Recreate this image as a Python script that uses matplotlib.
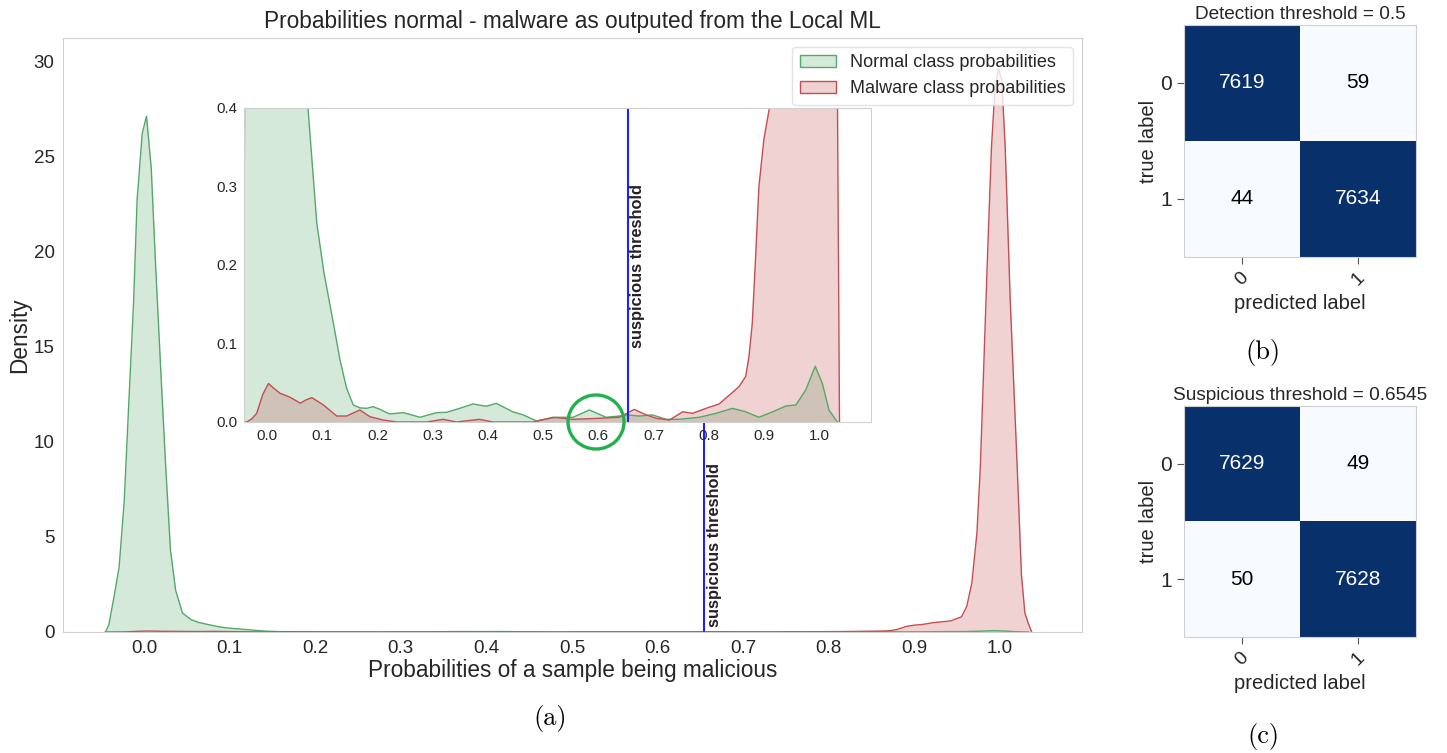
import numpy as np
import matplotlib.pyplot as plt
from matplotlib.patches import Patch, Ellipse

plt.rcParams['font.family'] = ['Liberation Sans', 'DejaVu Sans']
plt.rcParams['text.color'] = '#262626'
plt.rcParams['axes.labelcolor'] = '#262626'
plt.rcParams['xtick.color'] = '#262626'
plt.rcParams['ytick.color'] = '#262626'

# density of the "normal" class probabilities (KDE read-out)
normal_x = [-0.045, -0.041, -0.035, -0.029, -0.023, -0.0175, -0.012, -0.008, -0.002,
            0.003, 0.0085, 0.0137, 0.0195, 0.0254, 0.031, 0.037, 0.045, 0.055, 0.064,
            0.074, 0.09, 0.103, 0.12, 0.132, 0.144, 0.156, 0.168, 0.18, 0.192, 0.205,
            0.222, 0.247, 0.277, 0.307, 0.325, 0.349, 0.373, 0.397, 0.415, 0.445, 0.464,
            0.488, 0.50, 0.524, 0.554, 0.584, 0.614, 0.638, 0.653, 0.674, 0.698, 0.723,
            0.747, 0.783, 0.813, 0.843, 0.867, 0.891, 0.916, 0.940, 0.958, 0.976, 0.993,
            1.006, 1.018, 1.033]
normal_y = [0.0, 0.37, 1.84, 3.4, 6.9, 12.2, 17.4, 22.7, 26.2,
            27.1, 24.4, 19.2, 13.9, 8.7, 4.3, 2.2, 1.0, 0.65, 0.5,
            0.4, 0.253, 0.19, 0.126, 0.079, 0.043, 0.0217, 0.018, 0.0174, 0.0195, 0.016,
            0.0102, 0.0119, 0.006, 0.0119, 0.0123, 0.0174, 0.023, 0.020, 0.0238, 0.013, 0.009,
            0.0013, 0.003, 0.006, 0.006, 0.0153, 0.006, 0.0076, 0.009, 0.0076, 0.009, 0.0034,
            0.0034, 0.006, 0.011, 0.0174, 0.013, 0.006, 0.013, 0.0204, 0.0217, 0.041, 0.071,
            0.049, 0.0153, 0.0]

# density of the "malware" class probabilities
malware_x = [-0.045, -0.037, -0.028, -0.019, -0.008, 0.0024, 0.012, 0.0235, 0.0416, 0.06,
             0.07, 0.081, 0.102, 0.126, 0.144, 0.168, 0.186, 0.21, 0.235, 0.289, 0.319,
             0.343, 0.385, 0.409, 0.482, 0.518, 0.554, 0.602, 0.638, 0.665, 0.687, 0.705,
             0.729, 0.753, 0.771, 0.795, 0.819, 0.837, 0.855, 0.867, 0.873, 0.879, 0.885,
             0.891, 0.9, 0.91, 0.922, 0.942, 0.955, 0.961, 0.967, 0.973, 0.977, 0.981,
             0.985, 0.990, 0.994, 0.998, 1.002, 1.006, 1.012, 1.020, 1.025, 1.029, 1.033,
             1.037]
malware_y = [0.0, 0.0, 0.004, 0.011, 0.035, 0.049, 0.043, 0.0365, 0.0315, 0.024,
             0.028, 0.031, 0.0217, 0.0076, 0.0076, 0.0153, 0.0068, 0.0025, 0.0, 0.0, 0.0034,
             0.0, 0.0034, 0.0, 0.0, 0.006, 0.0034, 0.0047, 0.006, 0.016, 0.009, 0.0047,
             0.0025, 0.013, 0.011, 0.0174, 0.023, 0.034, 0.045, 0.058, 0.083, 0.126, 0.21,
             0.30, 0.36, 0.40, 0.49, 0.58, 0.8, 1.33, 2.56, 5.2, 8.7, 14.0,
             19.3, 25.5, 28.5, 29.6, 29.0, 25.5, 17.3, 8.7, 3.0, 1.0, 0.45,
             0.0]

suspicious_thr = 0.6545
detection_thr = 0.5

cm_detection = [[7619, 59], [44, 7634]]
cm_suspicious = [[7629, 49], [50, 7628]]
cm_labels = ['0', '1']

green = '#55A868'
red = '#C44E52'
spine_col = '#d0d0d0'

fig = plt.figure(figsize=(14.47, 7.53), dpi=100)


def draw_kdes(ax):
    ax.fill_between(normal_x, normal_y, color=green, alpha=0.25, lw=0)
    ax.plot(normal_x, normal_y, color=green, lw=1)
    ax.fill_between(malware_x, malware_y, color=red, alpha=0.25, lw=0)
    ax.plot(malware_x, malware_y, color=red, lw=1)
    for s in ax.spines.values():
        s.set_color(spine_col)
    ax.tick_params(length=0)
    ax.set_xticks(np.arange(0, 1.01, 0.1))


# main density plot
ax = fig.add_axes([0.0435, 0.1607, 0.7043, 0.7888])
draw_kdes(ax)
ax.set_xlim(-0.0946, 1.0958)
ax.set_ylim(0, 31.21)
ax.set_yticks(range(0, 31, 5))
ax.tick_params(labelsize=13.5, pad=6)
ax.vlines(suspicious_thr, 0, 11, color='#2020ff', lw=1.5)
ax.text(0.658, 0.28, 'suspicious threshold', rotation=90, ha='left', va='bottom',
        fontsize=11.8, fontweight='bold', color='#222222')
ax.set_title('Probabilities normal - malware as outputed from the Local ML', fontsize=16.3, pad=7)
ax.set_xlabel('Probabilities of a sample being malicious', fontsize=16.3, labelpad=1)
ax.set_ylabel('Density', fontsize=16.3, labelpad=2)
handles = [Patch(facecolor=(0.333, 0.659, 0.408, 0.25), edgecolor=green),
           Patch(facecolor=(0.769, 0.306, 0.322, 0.25), edgecolor=red)]
ax.legend(handles, ['Normal class probabilities', 'Malware class probabilities'],
          loc='upper right', fontsize=13, edgecolor='#dddddd', framealpha=0.8)

# zoomed inset near zero density
axi = fig.add_axes([0.1686, 0.4396, 0.4333, 0.417])
draw_kdes(axi)
axi.set_xlim(-0.042, 1.094)
axi.set_ylim(0, 0.4)
axi.set_yticks(np.arange(0, 0.41, 0.1))
axi.tick_params(labelsize=10.8, pad=5)
axi.axvline(suspicious_thr, color='#2020ff', lw=1.5)
axi.text(0.6574, 0.094, 'suspicious threshold', rotation=90, ha='left', va='bottom',
         fontsize=11.8, fontweight='bold', color='#222222')

# highlight circle around the bump near 0.6
fig.patches.append(Ellipse((596 / 1447, 1 - 422 / 753), 56 / 1447, 54 / 753,
                           transform=fig.transFigure, fill=False, edgecolor='#22B14C', lw=2.4))


def draw_cm(rect, cm, title):
    a = fig.add_axes(rect)
    cm = np.array(cm)
    a.imshow(cm, cmap='Blues', aspect='auto')
    for i in range(2):
        for j in range(2):
            a.text(j, i, str(cm[i, j]), ha='center', va='center', fontsize=15,
                   color='white' if cm[i, j] > cm.max() / 2 else 'black')
    a.set_xticks([0, 1])
    a.set_yticks([0, 1])
    a.set_xticklabels(cm_labels, rotation=45, fontsize=14)
    a.set_yticklabels(cm_labels, fontsize=15)
    a.tick_params(length=5, color='#555555', width=0.8)
    a.set_xlabel('predicted label', fontsize=14.5, labelpad=4)
    a.set_ylabel('true label', fontsize=14.5, labelpad=2)
    a.set_title(title, fontsize=13.7, pad=4)
    for s in a.spines.values():
        s.set_color(spine_col)
    return a


draw_cm([0.8183, 0.6587, 0.1603, 0.3081], cm_detection, 'Detection threshold = %s' % detection_thr)
draw_cm([0.8183, 0.154, 0.1603, 0.3068], cm_suspicious, 'Suspicious threshold = %s' % suspicious_thr)

# sub-figure captions
cap = dict(fontsize=19, fontname='cmr10', color='black', ha='center', va='center')
fig.text(550 / 1447, 1 - 718 / 753, '(a)', **cap)
fig.text(1263 / 1447, 1 - 353 / 753, '(b)', **cap)
fig.text(1263 / 1447, 1 - 736 / 753, '(c)', **cap)

fig.savefig('out.png', dpi=100)
